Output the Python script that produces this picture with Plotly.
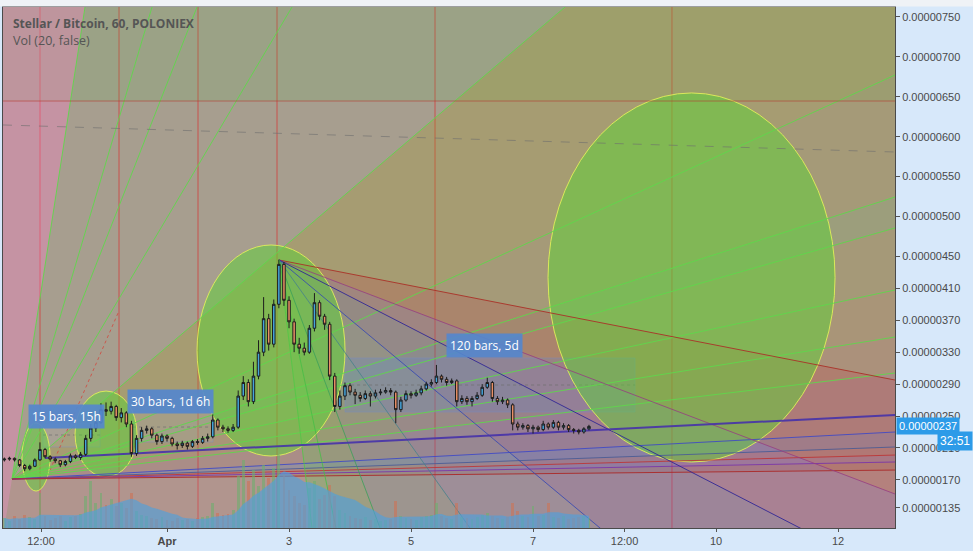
import numpy as np
import pandas as pd
import plotly.graph_objects as go

# ---------------- data (price in units of 1e-8 BTC, 2-hour bars) ----------------
start_time = "2017-03-29 08:00"
opens = [195,196,197,195,188,184,187,195,208,199,196,194,189,193,200,198,
         202,222,235,242,258,256,262,248,254,240,
         203,222,232,234,226,218,225,222,215,213,216,212,218,217,222,
         224,245,236,234,232,
         236,275,292,268,300,330,372,340,390,
         440,395,368,340,335,330,360,392,375,365,
         300,262,275,288,280,276,272,278,275,279,280,282,
         280,258,270,278,276,279,284,290,292,300,296,292,
         294,268,272,268,272,276,286,292,272,268,270,264,
         240,236,238,234,236,233,240,236,242,236,238,233,232,230,234]
closes = [196,197,195,188,184,187,195,208,199,196,194,189,193,200,198,202,
          222,235,242,258,256,262,248,254,240,203,
          222,232,234,226,218,225,222,215,213,216,212,218,217,222,224,
          245,236,234,232,236,
          275,292,268,300,330,372,340,390,440,
          395,368,340,335,330,360,392,375,365,300,
          262,275,288,280,276,272,278,275,279,280,282,280,
          258,270,278,276,279,284,290,292,300,296,292,294,
          268,272,268,272,276,286,292,272,268,270,264,240,
          236,238,234,236,233,240,236,242,236,238,233,232,230,234,237]
highs = [198,199,198,196,190,189,197,217,210,201,198,195,195,203,202,205,
         226,240,248,266,267,268,264,260,256,244,
         226,236,238,236,228,228,227,224,218,219,218,220,221,225,228,
         252,247,239,237,240,
         282,300,296,318,345,399,378,396,446,
         443,400,372,348,342,364,404,395,378,368,
         304,282,292,291,284,280,282,281,283,284,286,285,
         282,274,282,281,283,288,293,296,314,302,299,297,
         296,276,275,275,280,290,298,294,275,274,272,266,
         243,241,240,239,238,244,242,245,244,241,240,235,234,236,239]
lows = [193,194,193,186,181,182,186,194,197,193,191,186,187,191,196,195,
        200,218,230,240,250,252,244,242,236,199,
        200,218,228,222,214,215,218,212,208,210,208,210,214,215,218,
        222,232,230,229,230,
        234,270,262,265,296,325,332,336,385,
        388,360,330,328,326,328,356,370,358,295,
        255,258,270,276,265,268,270,262,272,276,278,276,
        241,255,268,272,274,276,282,287,290,292,288,290,
        262,265,264,262,270,274,284,268,264,265,260,232,
        232,233,230,228,230,231,233,234,232,233,230,228,227,228,232]
volumes = [120,90,140,110,160,130,110,420,150,100,120,140,90,130,150,170,
           380,560,300,420,280,350,260,300,240,420,
           200,160,140,120,110,130,100,90,120,100,110,90,120,130,150,
           300,180,160,170,220,
           620,820,560,700,500,760,600,720,880,
           650,450,380,300,280,480,560,350,400,520,
           380,220,180,140,120,110,130,100,110,90,100,110,
           320,150,120,110,100,130,150,160,300,140,120,110,
           300,130,120,110,130,160,180,150,120,110,130,300,
           200,140,130,260,150,160,300,130,120,140,110,120,130,140,120]

price_tick_vals = [135,170,210,250,290,330,370,410,450,500,550,600,650,700,750]
price_tick_text = ["0.00000135","0.00000170","0.00000210","0.00000250","0.00000290",
                   "0.00000330","0.00000370","0.00000410","0.00000450","0.00000500",
                   "0.00000550","0.00000600","0.00000650","0.00000700","0.00000750"]
time_tick_days = [-2.066, 0, 2, 4, 6, 7.5, 9, 11]
time_tick_text = ["12:00", "<b>Apr</b>", "3", "5", "7", "12:00", "10", "12"]

last_price = 237
last_price_text = "0.00000237"
countdown_text = "32:51"

# ---------------- drawing anchors (days from Apr 1, price) ----------------
X_RANGE = [-2.689, 11.934]
Y_RANGE = [109.7, 762.5]

fan_origin = (-2.541, 171.1)
fan_targets = [(-1.344, 762.5), (-0.246, 762.5), (0.492, 762.5), (2.049, 762.5), (6.525, 762.5),
               (11.934, 677.3), (11.934, 524.4), (11.934, 485.6), (11.934, 407.9), (11.934, 349.0),
               (11.934, 303.9), (11.934, 230.0), (11.934, 211.2), (11.934, 201.1), (11.934, 192.4),
               (11.934, 182.3)]
fan_line_colors = ["rgba(95,215,75,0.9)"] * 11 + ["rgba(60,70,200,0.85)", "rgba(70,90,150,0.85)",
                                                  "rgba(190,50,50,0.85)", "rgba(120,50,170,0.85)",
                                                  "rgba(170,45,45,0.95)"]
fan_fill_colors = [None, None, None, None,
                   "rgba(165,150,40,0.28)", "rgba(160,145,50,0.25)", "rgba(120,160,60,0.22)",
                   "rgba(160,140,50,0.25)", "rgba(175,120,50,0.24)", "rgba(185,100,55,0.22)",
                   "rgba(180,80,110,0.22)", "rgba(100,90,200,0.22)", "rgba(200,70,90,0.22)",
                   "rgba(150,70,180,0.22)", "rgba(200,70,70,0.22)"]

peak = (1.836, 445.5)
peak_targets = [(11.934, 295.1), (11.934, 152.3), (10.377, 109.7), (7.098, 109.7),
                (4.967, 109.7), (3.492, 109.7), (2.770, 109.7), (2.377, 109.7)]
peak_line_colors = ["rgba(170,50,40,0.9)", "rgba(150,60,130,0.8)", "rgba(50,40,150,0.9)",
                    "rgba(50,70,180,0.8)", "rgba(70,130,140,0.8)", "rgba(60,160,90,0.8)",
                    "rgba(70,190,70,0.8)", "rgba(80,200,70,0.8)"]
peak_fill_colors = ["rgba(190,60,70,0.22)", "rgba(140,60,170,0.22)", "rgba(80,70,200,0.2)",
                    "rgba(70,110,200,0.18)", "rgba(80,150,150,0.2)", "rgba(90,190,90,0.22)",
                    "rgba(90,210,80,0.25)"]

trend_line = [(-2.0, 197.4), (11.934, 251.3)]
ellipses = [(-2.377, -1.918, 156.0, 241.2), (-1.508, -0.492, 173.6, 281.3),
            (0.492, 2.918, 199.9, 464.3), (6.246, 10.951, 192.4, 654.8)]
fib_time_base, fib_time_unit = -2.082, 1.295
fib_numbers = [0, 1, 2, 3, 5, 8]
level_line = 644.7
dashed_line = [(-2.689, 614.7), (11.934, 580.8)]
ranges = [  # x0, x1, y0, y1, label, label_x, label_y, fill
    (-2.033, -1.098, 211.2, 241.2, "15 bars, 15h", -1.656, 248.8, "rgba(170,170,170,0.25)"),
    (-0.557, 0.754, 217.4, 255.0, "30 bars, 1d 6h", 0.049, 268.8, "rgba(170,170,170,0.25)"),
    (2.918, 7.672, 255.0, 322.7, "120 bars, 5d", 5.197, 339.0, "rgba(90,130,220,0.22)"),
]
red_dashed = [(-1.918, 182.3), (-0.803, 379.1)]

# ---------------- build ----------------
times = pd.date_range(start_time, periods=len(closes), freq="2h")
xd = ((times - pd.Timestamp("2017-04-01")) / pd.Timedelta(days=1)).to_numpy()
vol_ma = pd.Series(volumes).rolling(10, min_periods=1).mean()

def path(pts):
    return "M " + " L ".join(f"{x},{y}" for x, y in pts) + " Z"

def far(o, t, k=6.0):
    return (o[0] + k * (t[0] - o[0]), o[1] + k * (t[1] - o[1]))

shapes = []
def add(**kw):
    kw.setdefault("xref", "x"); kw.setdefault("yref", "y"); kw.setdefault("layer", "below")
    shapes.append(kw)

# green band above level
add(type="rect", x0=X_RANGE[0] - 1, x1=X_RANGE[1] + 1, y0=level_line, y1=900,
    fillcolor="rgba(90,190,90,0.15)", line_width=0)
# origin fan fills
for i, col in enumerate(fan_fill_colors):
    if col:
        add(type="path", path=path([fan_origin, far(fan_origin, fan_targets[i]), far(fan_origin, fan_targets[i + 1])]),
            fillcolor=col, line_width=0)
# left of steepest line (pink) and below flattest line
t1 = fan_targets[0]
back = far(fan_origin, t1, -6.0)
add(type="path", path=path([far(fan_origin, t1), (-30, far(fan_origin, t1)[1]), (-30, back[1]), back]),
    fillcolor="rgba(255,125,200,0.35)", line_width=0)
low_far = far(fan_origin, fan_targets[-1])
add(type="path", path=path([fan_origin, low_far, (low_far[0], -4000), (back[0], -4000), back]),
    fillcolor="rgba(215,120,140,0.22)", line_width=0)
# peak fan fills
for i, col in enumerate(peak_fill_colors):
    add(type="path", path=path([peak, far(peak, peak_targets[i]), far(peak, peak_targets[i + 1])]),
        fillcolor=col, line_width=0)
# range boxes
for x0, x1, y0, y1, lab, lx, ly, fc in ranges:
    add(type="rect", x0=x0, x1=x1, y0=y0, y1=y1, fillcolor=fc, line=dict(color="rgba(120,140,200,0.4)", width=1))
    add(type="line", x0=x0, x1=x1, y0=(y0 + y1) / 2, y1=(y0 + y1) / 2,
        line=dict(color="rgba(110,110,110,0.7)", width=1, dash="dot"))
add(type="line", x0=red_dashed[0][0], y0=red_dashed[0][1], x1=red_dashed[1][0], y1=red_dashed[1][1],
    line=dict(color="rgba(210,70,60,0.8)", width=1, dash="dot"))
# ellipses
for x0, x1, y0, y1 in ellipses:
    add(type="circle", x0=x0, x1=x1, y0=y0, y1=y1, fillcolor="rgba(90,215,50,0.48)",
        line=dict(color="rgba(225,240,90,0.9)", width=1))
# fan lines
for t, c in zip(fan_targets, fan_line_colors):
    e = far(fan_origin, t)
    add(type="line", x0=fan_origin[0], y0=fan_origin[1], x1=e[0], y1=e[1], line=dict(color=c, width=1))
for t, c in zip(peak_targets, peak_line_colors):
    e = far(peak, t)
    add(type="line", x0=peak[0], y0=peak[1], x1=e[0], y1=e[1], line=dict(color=c, width=1))
add(type="line", x0=trend_line[0][0], y0=trend_line[0][1], x1=trend_line[1][0] + 1,
    y1=trend_line[1][1] + (trend_line[1][1] - trend_line[0][1]) / (trend_line[1][0] - trend_line[0][0]),
    line=dict(color="rgba(70,50,170,0.9)", width=2))
# level and dashed lines
add(type="line", x0=X_RANGE[0] - 1, x1=X_RANGE[1] + 1, y0=level_line, y1=level_line,
    line=dict(color="rgba(180,60,50,0.6)", width=1))
add(type="line", x0=dashed_line[0][0], y0=dashed_line[0][1], x1=dashed_line[1][0], y1=dashed_line[1][1],
    line=dict(color="rgba(110,110,110,0.6)", width=1, dash="dash"))
# fib time zones
for n in fib_numbers:
    xv = fib_time_base + fib_time_unit * n
    add(type="line", x0=xv, x1=xv, y0=0, y1=1, yref="paper", line=dict(color="rgba(215,50,50,0.7)", width=1))
# top strip
shapes.append(dict(type="rect", xref="paper", yref="paper", x0=-0.01, x1=1.1, y0=1.001, y1=1.03,
                   fillcolor="#eff2f6", line_width=0, layer="above"))

fig = go.Figure()
vol_colors = ["rgba(110,175,110,0.6)" if c >= o else "rgba(205,115,85,0.6)" for o, c in zip(opens, closes)]
fig.add_trace(go.Bar(x=xd, y=volumes, yaxis="y2", marker=dict(color=vol_colors, line_width=0),
                     width=1 / 12 * 0.55, showlegend=False, hoverinfo="skip"))
fig.add_trace(go.Scatter(x=xd, y=vol_ma, yaxis="y2", mode="lines", fill="tozeroy",
                         line=dict(width=0, color="rgba(80,160,220,0.65)"),
                         fillcolor="rgba(80,160,220,0.65)", showlegend=False, hoverinfo="skip"))
fig.add_trace(go.Candlestick(x=xd, open=opens, high=highs, low=lows, close=closes,
                             increasing=dict(fillcolor="#45a4dc", line=dict(color="#1d1d1d", width=1)),
                             decreasing=dict(fillcolor="#e99066", line=dict(color="#1d1d1d", width=1)),
                             whiskerwidth=0, showlegend=False))

annotations = [
    dict(text="<b>Stellar / Bitcoin, 60, POLONIEX</b>", xref="paper", yref="paper", x=0.0095, y=0.969,
         xanchor="left", yanchor="middle", showarrow=False, font=dict(family="Open Sans", size=12, color="#555")),
    dict(text="Vol (20, false)", xref="paper", yref="paper", x=0.0095, y=0.936,
         xanchor="left", yanchor="middle", showarrow=False, font=dict(family="Open Sans", size=12.5, color="#555")),
    dict(text=last_price_text, xref="paper", yref="y", x=1.0015, y=last_price, xanchor="left", yanchor="middle",
         showarrow=False, bgcolor="#2d9be8", borderpad=2, font=dict(family="Liberation Sans", size=11, color="white")),
    dict(text=countdown_text, xref="paper", yref="y", x=1.0874, y=218.7, xanchor="right", yanchor="middle",
         showarrow=False, bgcolor="#2d9be8", borderpad=2, font=dict(family="Liberation Sans", size=12, color="white")),
]
for x0, x1, y0, y1, lab, lx, ly, fc in ranges:
    annotations.append(dict(text=lab, x=lx, y=ly, xref="x", yref="y", showarrow=False,
                            bgcolor="rgba(85,135,205,0.92)", borderpad=3,
                            font=dict(family="Open Sans", size=12, color="white")))

fig.update_layout(
    width=973, height=551, margin=dict(l=3, r=78, t=7, b=23),
    paper_bgcolor="#d7e8fa", plot_bgcolor="#a79e8f",
    shapes=shapes, annotations=annotations, showlegend=False, bargap=0,
    xaxis=dict(range=X_RANGE, tickvals=time_tick_days, ticktext=time_tick_text, showgrid=False,
               zeroline=False, rangeslider=dict(visible=False), ticks="outside", ticklen=3,
               tickcolor="#555", showline=True, mirror=True, linecolor="#4a4a4a", linewidth=1,
               tickfont=dict(family="Liberation Sans Narrow, Liberation Sans", size=11, color="#4a4a4a")),
    yaxis=dict(range=Y_RANGE, side="right", tickvals=price_tick_vals, ticktext=price_tick_text,
               showgrid=False, zeroline=False, ticks="outside", ticklen=4, tickcolor="#555",
               showline=True, mirror=True, linecolor="#4a4a4a", linewidth=1,
               tickfont=dict(family="Liberation Sans", size=11, color="#4a4a4a")),
    yaxis2=dict(range=[0, 6250], overlaying="y", visible=False, fixedrange=True),
)

fig.write_html("out.html")
